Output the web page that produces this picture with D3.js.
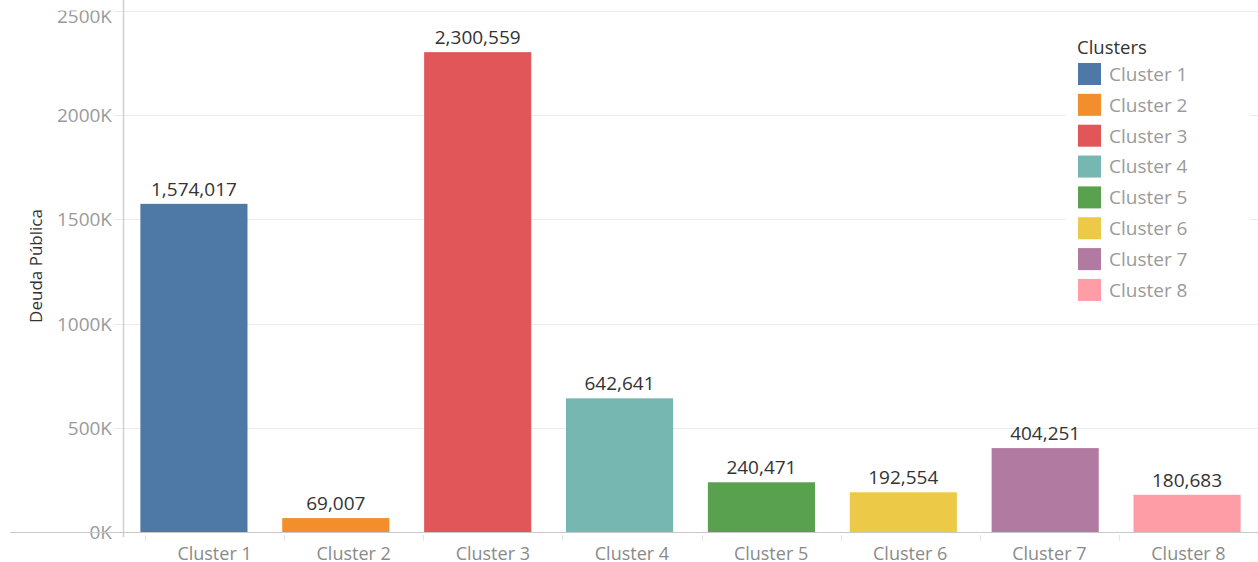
<!DOCTYPE html>
<html>
<head>
<meta charset="utf-8">
<script src="https://cdn.jsdelivr.net/npm/d3@7/dist/d3.min.js"></script>
<style>
  html, body { margin: 0; padding: 0; background: #fff; }
  svg { display: block; font-family: "Open Sans", "Noto Sans", sans-serif; }
</style>
</head>
<body>
<svg id="chart" width="1258" height="562"></svg>
<script>
// Public debt by cluster
const categories = ["Cluster 1", "Cluster 2", "Cluster 3", "Cluster 4", "Cluster 5", "Cluster 6", "Cluster 7", "Cluster 8"];
const values = [1574017, 69007, 2300559, 642641, 240471, 192554, 404251, 180683];
const colors = ["#4e79a7", "#f28e2b", "#e15759", "#76b7b2", "#59a14f", "#edc948", "#b07aa1", "#ff9da7"];
const yTicks = [0, 500000, 1000000, 1500000, 2000000, 2500000];
const yTitle = "Deuda Pública";
const legendTitle = "Clusters";

const svg = d3.select("#chart");
const W = 1258, H = 562;
const plot = { left: 123, right: 1258, top: 10.5, bottom: 532.5 };

const y = d3.scaleLinear().domain([0, 2500000]).range([plot.bottom, plot.top]);
const x = d3.scaleBand().domain(categories).range([plot.left, plot.right])
  .paddingInner(0.245).paddingOuter(0.1225);
// header columns for the category labels
const xh = d3.scaleBand().domain(categories).range([145, 1258]).padding(0);
const color = d3.scaleOrdinal().domain(categories).range(colors);
const fmt = d3.format(",");

// clip for the tick label pane
svg.append("defs").append("clipPath").attr("id", "tickclip")
  .append("rect").attr("x", 0).attr("y", 10.5).attr("width", 123).attr("height", 540);

// gridlines
svg.append("g")
  .selectAll("line").data(yTicks.filter(d => d > 0)).join("line")
  .attr("x1", 114).attr("x2", W)
  .attr("y1", d => Math.round(y(d)) + 0.5).attr("y2", d => Math.round(y(d)) + 0.5)
  .attr("stroke", "#ececec").attr("stroke-width", 1);

// y tick labels (the topmost one nudged down and clipped by the pane)
svg.append("g").attr("clip-path", "url(#tickclip)")
  .selectAll("text").data(yTicks).join("text")
  .attr("x", 112).attr("y", d => Math.max(y(d), plot.top + 5.5))
  .attr("dy", "0.36em")
  .attr("text-anchor", "end")
  .attr("fill", "#9a9a9a")
  .attr("font-size", 19)
  .text(d => (d / 1000) + "K");

// y axis title
svg.append("text")
  .attr("transform", `translate(42,266) rotate(-90)`)
  .attr("text-anchor", "middle")
  .attr("fill", "#333")
  .attr("font-size", 17)
  .text(yTitle);

// bars
svg.append("g")
  .selectAll("rect").data(categories).join("rect")
  .attr("x", d => x(d))
  .attr("width", x.bandwidth())
  .attr("y", (d, i) => y(values[i]))
  .attr("height", (d, i) => y(0) - y(values[i]))
  .attr("fill", d => color(d));

// value labels
svg.append("g")
  .selectAll("text").data(categories).join("text")
  .attr("x", d => x(d) + x.bandwidth() / 2)
  .attr("y", (d, i) => y(values[i]) - 8)
  .attr("text-anchor", "middle")
  .attr("fill", "#333")
  .attr("font-size", 19)
  .text((d, i) => fmt(values[i]));

// axes lines
svg.append("line")
  .attr("x1", 10).attr("x2", W).attr("y1", 532.5).attr("y2", 532.5)
  .attr("stroke", "#c8c8c8").attr("stroke-width", 1);
svg.append("line")
  .attr("x1", 123.5).attr("x2", 123.5).attr("y1", 0).attr("y2", 537)
  .attr("stroke", "#d0d0d0").attr("stroke-width", 1.5);

// header column dividers
svg.append("g")
  .selectAll("line").data(categories).join("line")
  .attr("x1", d => Math.round(xh(d)) + 0.5).attr("x2", d => Math.round(xh(d)) + 0.5)
  .attr("y1", 535).attr("y2", 541)
  .attr("stroke", "#e4e4e4");

// category labels
svg.append("g")
  .selectAll("text").data(categories).join("text")
  .attr("x", d => xh(d) + xh.bandwidth() / 2)
  .attr("y", 559.5)
  .attr("text-anchor", "middle")
  .attr("fill", "#8a8a8a")
  .attr("font-size", 18)
  .text(d => d);

// legend
const lg = svg.append("g");
lg.append("rect")
  .attr("x", 1066).attr("y", 28).attr("width", 184).attr("height", 278)
  .attr("fill", "#fff");
lg.append("text")
  .attr("x", 1077).attr("y", 54)
  .attr("fill", "#333").attr("font-size", 18.5)
  .text(legendTitle);
const item = lg.selectAll("g.item").data(categories).join("g")
  .attr("class", "item")
  .attr("transform", (d, i) => `translate(1078,${63 + i * 30.85})`);
item.append("rect")
  .attr("width", 23).attr("height", 22)
  .attr("fill", d => color(d));
item.append("text")
  .attr("x", 31).attr("y", 11).attr("dy", "0.36em")
  .attr("fill", "#9a9a9a").attr("font-size", 19)
  .text(d => d);
</script>
</body>
</html>
